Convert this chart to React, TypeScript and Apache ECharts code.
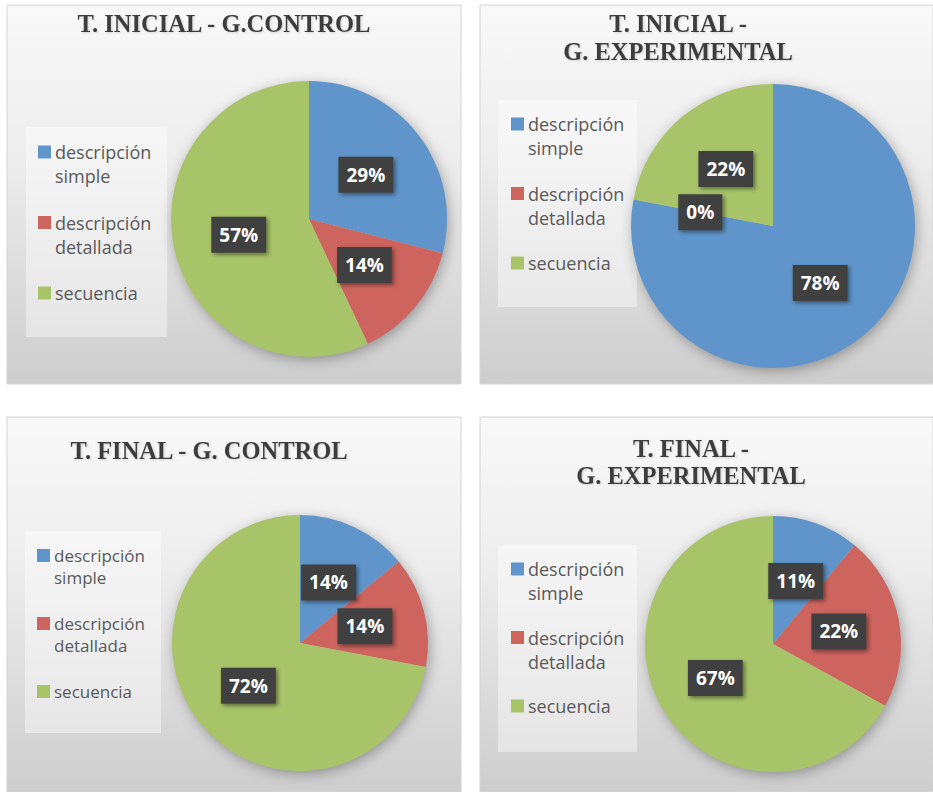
import React, { useEffect, useRef } from 'react';
import * as echarts from 'echarts';

// ---- data ----
const categories = ['descripción simple', 'descripción detallada', 'secuencia'];
const titles = [
  'T. INICIAL - G.CONTROL',
  'T. INICIAL -\nG. EXPERIMENTAL',
  'T. FINAL - G. CONTROL',
  'T. FINAL -\nG. EXPERIMENTAL',
];
const inicialControl = [29, 14, 57];
const inicialExperimental = [78, 0, 22];
const finalControl = [14, 14, 72];
const finalExperimental = [11, 22, 67];
const seriesValues = [inicialControl, inicialExperimental, finalControl, finalExperimental];

// ---- styles / layout ----
const colors = ['#5f95ca', '#cd645e', '#a8c468'];

const layout = [
  { x: 7, y: 5, w: 454, h: 379, tx: 224, ty: 8.5, tlh: 30, cx: 309, cy: 219, r: 138, box: [26, 127, 141, 210], lx: 38, ly: 143, gap: 28.5, fs: 18, lh: 24 },
  { x: 480, y: 5, w: 453, h: 379, tx: 678, ty: 9.5, tlh: 28, cx: 773, cy: 226, r: 142, box: [498, 100, 139, 207], lx: 511, ly: 115, gap: 27.5, fs: 18, lh: 24 },
  { x: 7, y: 417, w: 454, h: 375, tx: 209, ty: 435.5, tlh: 30, cx: 300, cy: 643, r: 128, box: [25, 531, 136, 202], lx: 37, ly: 547, gap: 29, fs: 17, lh: 22 },
  { x: 480, y: 417, w: 453, h: 375, tx: 691, ty: 435, tlh: 27, cx: 773, cy: 644, r: 128, box: [498, 545, 139, 207], lx: 511, ly: 560, gap: 26.5, fs: 18, lh: 24 },
];

export default function App() {
  const ref = useRef<HTMLDivElement>(null);

  useEffect(() => {
    if (!ref.current) return;
    const chart = echarts.init(ref.current, null, { renderer: 'svg' });

    const graphics: any[] = [];
    layout.forEach((p) => {
      graphics.push({
        type: 'rect',
        z: 0,
        shape: { x: p.x, y: p.y, width: p.w, height: p.h },
        style: {
          fill: new echarts.graphic.LinearGradient(0, 0, 0, 1, [
            { offset: 0, color: '#f9f9f9' },
            { offset: 0.4, color: '#ededed' },
            { offset: 1, color: '#cdcdcd' },
          ]),
          stroke: '#d4d4d4',
          lineWidth: 1,
        },
      });
    });
    layout.forEach((p) => {
      graphics.push({
        type: 'rect',
        z: 1,
        shape: { x: p.box[0], y: p.box[1], width: p.box[2], height: p.box[3] },
        style: { fill: 'rgba(255,255,255,0.42)' },
      });
      graphics.push({
        type: 'circle',
        z: 1,
        shape: { cx: p.cx, cy: p.cy, r: p.r - 1 },
        style: { fill: '#bbbbbb', shadowBlur: 14, shadowColor: 'rgba(0,0,0,0.35)', shadowOffsetX: 2, shadowOffsetY: 3 },
      });
    });

    const option: any = {
      animation: false,
      backgroundColor: '#ffffff',
      title: layout.map((p, i) => ({
        text: titles[i],
        left: p.tx,
        top: p.ty,
        textAlign: 'center',
        padding: 0,
        textStyle: {
          fontFamily: '"Liberation Serif", "Times New Roman", serif',
          fontWeight: 'bold',
          fontSize: 24.5,
          lineHeight: p.tlh,
          color: '#3d3d3d',
          textShadowColor: 'rgba(0,0,0,0.15)',
          textShadowBlur: 2,
          textShadowOffsetX: 1,
          textShadowOffsetY: 1,
        },
      })),
      legend: layout.map((p) => ({
        orient: 'vertical',
        left: p.lx - 5,
        top: p.ly,
        padding: 0,
        itemWidth: 0,
        itemHeight: 0,
        itemGap: p.gap,
        selectedMode: false,
        data: categories,
        formatter: (name: string) => {
          const idx = categories.indexOf(name);
          const parts = name.split(' ');
          return parts.map((w, j) => (j === 0 ? `{s${idx}|}` : '{sp|}') + `{t|${w}}`).join('\n');
        },
        textStyle: {
          rich: {
            s0: { width: 13, height: 13, backgroundColor: colors[0], verticalAlign: 'middle' },
            s1: { width: 13, height: 13, backgroundColor: colors[1], verticalAlign: 'middle' },
            s2: { width: 13, height: 13, backgroundColor: colors[2], verticalAlign: 'middle' },
            sp: { width: 13, height: 13 },
            t: {
              fontFamily: '"Open Sans", sans-serif',
              fontSize: p.fs,
              lineHeight: p.lh,
              color: '#595959',
              padding: [0, 0, 0, 4],
              verticalAlign: 'middle',
            },
          },
        },
      })),
      graphic: { elements: graphics },
      series: layout.map((p, i) => ({
        type: 'pie',
        z: 3,
        center: [p.cx, p.cy],
        radius: p.r,
        startAngle: 90,
        clockwise: true,
        color: colors,
        itemStyle: { borderWidth: 0 },
        emphasis: { disabled: true },
        labelLine: { show: false },
        label: {
          show: true,
          position: 'inside',
          formatter: (prm: any) => `${prm.value}%`,
          color: '#ffffff',
          fontFamily: '"Open Sans", sans-serif',
          fontWeight: 'bold',
          fontSize: 19,
          lineHeight: 20,
          backgroundColor: '#404040',
          padding: [8, 8],
          shadowColor: 'rgba(0,0,0,0.45)',
          shadowBlur: 4,
          shadowOffsetX: 2,
          shadowOffsetY: 2,
        },
        data: categories.map((c, j) => ({ name: c, value: seriesValues[i][j] })),
      })),
    };

    chart.setOption(option);
    return () => chart.dispose();
  }, []);

  return (
    <div
      ref={ref}
      style={{ position: 'fixed', left: 0, top: 0, width: 933, height: 792, background: '#ffffff' }}
    />
  );
}
